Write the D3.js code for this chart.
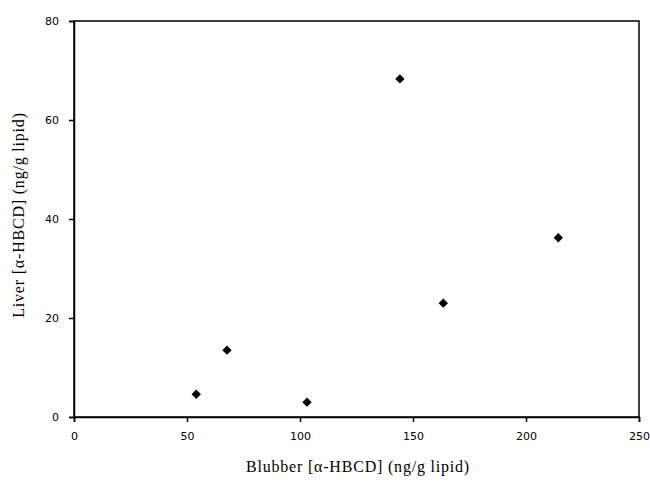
<!DOCTYPE html>
<html>
<head>
<meta charset="utf-8">
<script src="https://cdn.jsdelivr.net/npm/d3@7"></script>
<style>
  body { margin: 0; background: #fff; }
  .tick text { font-family: "DejaVu Sans", sans-serif; font-size: 11px; fill: #000; }
  .title { font-family: "Liberation Serif", "Times New Roman", serif; font-size: 16px; letter-spacing: 0.8px; fill: #000; }
</style>
</head>
<body>
<div id="chart"></div>
<script>
// data
let blubber = [54.1, 67.7, 103.1, 144.2, 163.4, 214.3];
let liver = [4.6, 13.5, 3.0, 68.3, 23.0, 36.2];
let xTicks = [0, 50, 100, 150, 200, 250];
let yTicks = [0, 20, 40, 60, 80];

let width = 650;
let height = 484;
let margin = { left: 74, right: 11, top: 21, bottom: 67 };

let svg = d3
    .select("#chart")
    .append("svg")
    .attr("width", width)
    .attr("height", height);

let x = d3.scaleLinear().domain([0, 250]).range([margin.left, width - margin.right]);
let y = d3.scaleLinear().domain([0, 80]).range([height - margin.bottom, margin.top]);

// frame
svg
  .append("rect")
  .attr("x", x(0))
  .attr("y", y(80))
  .attr("width", x(250) - x(0))
  .attr("height", y(0) - y(80))
  .attr("fill", "none")
  .attr("stroke", "#000")
  .attr("stroke-width", 1.5);

let xAxis = svg
    .append("g")
    .attr("transform", "translate(0," + y(0) + ")")
    .call(d3.axisBottom(x).tickValues(xTicks).tickSize(5).tickPadding(10).tickFormat(d3.format("d")));

let yAxis = svg
    .append("g")
    .attr("transform", "translate(" + x(0) + ",0)")
    .call(d3.axisLeft(y).tickValues(yTicks).tickSize(5).tickPadding(10).tickFormat(d3.format("d")));

[xAxis, yAxis].forEach((a) => {
  a.select(".domain").attr("stroke-width", 1.5);
  a.selectAll(".tick line").attr("stroke-width", 1.5);
});

// points
svg
  .selectAll("path.pt")
  .data(blubber)
  .enter()
  .append("path")
  .attr("class", "pt")
  .attr("d", d3.symbol().type(d3.symbolSquare).size(44))
  .attr("transform", (d, i) => "translate(" + x(d) + "," + y(liver[i]) + ") rotate(45)")
  .attr("fill", "#000");

// axis titles
svg
  .append("text")
  .attr("class", "title")
  .attr("x", 358)
  .attr("y", 472)
  .attr("text-anchor", "middle")
  .text("Blubber [α-HBCD] (ng/g lipid)");

svg
  .append("text")
  .attr("class", "title")
  .attr("transform", "translate(24," + 215 + ") rotate(-90)")
  .attr("text-anchor", "middle")
  .text("Liver [α-HBCD] (ng/g lipid)");
</script>
</body>
</html>
